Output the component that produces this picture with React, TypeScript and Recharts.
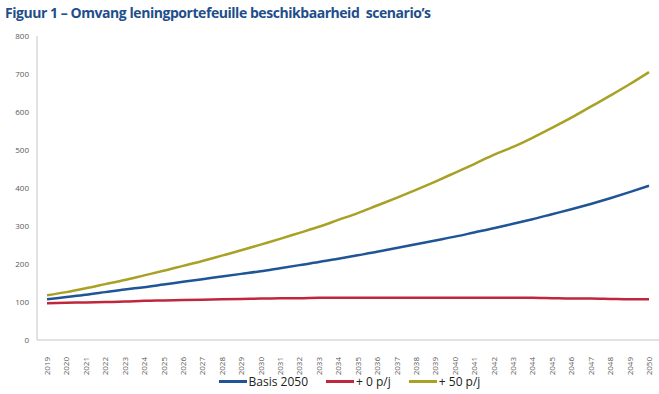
import React from "react";
import { LineChart, Line, XAxis, YAxis, Legend } from "recharts";

const years = [
  "2019", "2020", "2021", "2022", "2023", "2024", "2025", "2026",
  "2027", "2028", "2029", "2030", "2031", "2032", "2033", "2034",
  "2035", "2036", "2037", "2038", "2039", "2040", "2041", "2042",
  "2043", "2044", "2045", "2046", "2047", "2048", "2049", "2050",
];

const basis2050 = [
  107, 113, 119, 126, 133, 139, 146, 153, 160, 167, 174, 181, 189, 197, 205, 214,
  223, 232, 242, 252, 262, 272, 283, 294, 306, 318, 331, 344, 358, 373, 389, 406,
];

const plus0 = [
  97, 98, 99, 100, 101, 103, 104, 105, 106, 107, 108, 109, 110, 110, 111, 111,
  111, 111, 111, 111, 111, 111, 111, 111, 111, 111, 110, 109, 109, 108, 107, 107,
];

const plus50 = [
  118, 126, 136, 147, 158, 170, 182, 195, 208, 222, 236, 251, 266, 282, 298, 316,
  334, 354, 374, 395, 417, 440, 463, 487, 508, 532, 558, 585, 614, 643, 673, 705,
];

const yTicks = [0, 100, 200, 300, 400, 500, 600, 700, 800];

const series = [
  { key: "basis", name: "Basis 2050", color: "#1f5597" },
  { key: "plus0", name: "+ 0 p/j", color: "#c0273d" },
  { key: "plus50", name: "+ 50 p/j", color: "#a8a125" },
];

const data = years.map((year, i) => ({
  year,
  basis: basis2050[i],
  plus0: plus0[i],
  plus50: plus50[i],
}));

const tickStyle = { fontSize: 8, fill: "#595959", fontFamily: "Open Sans" };

function YearTick({ x, y, payload }: any) {
  return (
    <text
      x={x + 3}
      y={y + 9}
      transform={`rotate(-90, ${x + 3}, ${y + 9})`}
      textAnchor="end"
      style={tickStyle}
    >
      {payload.value}
    </text>
  );
}

function LegendContent() {
  return (
    <div style={{ display: "flex", justifyContent: "center", gap: 18, paddingTop: 3, paddingLeft: 40, fontFamily: "Open Sans", fontSize: 12, color: "#222" }}>
      {series.map((s) => (
        <div key={s.key} style={{ display: "flex", alignItems: "center" }}>
          <span style={{ display: "inline-block", width: 28, height: 3, background: s.color, marginRight: 2 }} />
          <span>{s.name}</span>
        </div>
      ))}
    </div>
  );
}

export default function App() {
  return (
    <div style={{ position: "absolute", left: 0, top: 0, width: 659, height: 394, background: "#fff" }}>
      <div
        style={{
          position: "absolute",
          left: 5,
          top: 3,
          fontFamily: "Open Sans",
          fontWeight: 700,
          fontSize: 14,
          letterSpacing: -0.45,
          color: "#1f4e8c",
          whiteSpace: "pre",
        }}
      >
        {"Figuur 1 – Omvang leningportefeuille beschikbaarheid  scenario’s"}
      </div>
      <LineChart
        width={659}
        height={394}
        data={data}
        margin={{ top: 36, right: 0, left: 0, bottom: 0 }}
      >
        <XAxis
          dataKey="year"
          interval={0}
          height={30}
          padding={{ left: 10, right: 10 }}
          tick={<YearTick />}
          tickLine={false}
          axisLine={{ stroke: "#d9d9d9", strokeWidth: 1.5 }}
        />
        <YAxis
          width={37}
          domain={[0, 800]}
          ticks={yTicks}
          interval={0}
          tick={tickStyle}
          tickLine={false}
          axisLine={{ stroke: "#d9d9d9", strokeWidth: 1.5 }}
        />
        <Legend verticalAlign="bottom" height={24} content={<LegendContent />} />
        {series.map((s) => (
          <Line
            key={s.key}
            dataKey={s.key}
            name={s.name}
            stroke={s.color}
            strokeWidth={2.5}
            dot={false}
            type="monotone"
            isAnimationActive={false}
          />
        ))}
      </LineChart>
    </div>
  );
}
